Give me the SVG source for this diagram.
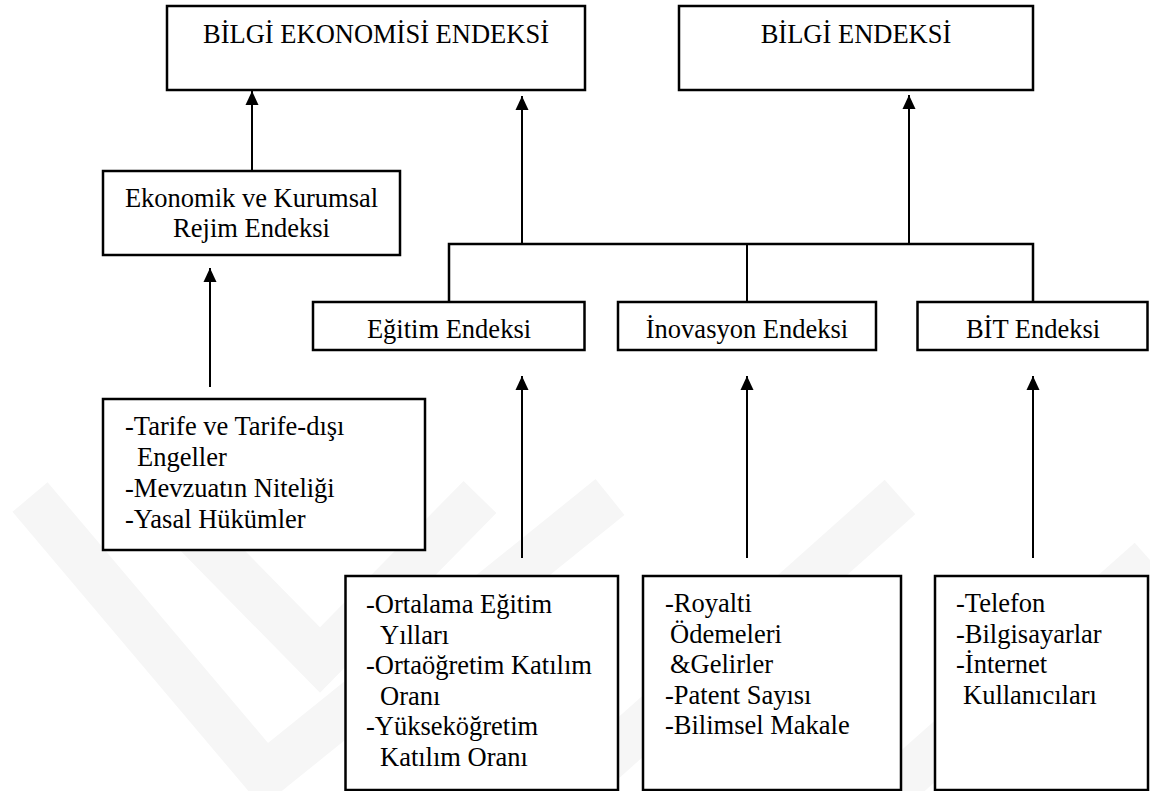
<svg xmlns="http://www.w3.org/2000/svg" width="1150" height="791" viewBox="0 0 1150 791">
<defs>
<marker id="ah" markerUnits="userSpaceOnUse" markerWidth="14" markerHeight="14" refX="14" refY="7" orient="auto">
<path d="M0,0.5 L14,7 L0,13.5 z" fill="#000"/>
</marker>
</defs>
<rect width="1150" height="791" fill="#fff"/>
<g id="watermark" fill="none" stroke="#f6f6f6" stroke-width="46">
<polyline points="30,497 265,775 610,497"/>
<polyline points="160,497 320,660 480,497"/>
<polyline points="560,800 900,497"/>
<polyline points="880,800 1150,560"/>
</g>
<g id="connectors" stroke="#000" stroke-width="2" fill="none">
<line x1="252" y1="171" x2="252" y2="91" marker-end="url(#ah)"/>
<line x1="522" y1="244" x2="522" y2="96" marker-end="url(#ah)"/>
<line x1="909" y1="244" x2="909" y2="95" marker-end="url(#ah)"/>
<polyline stroke-width="2.5" points="449,302 449,244 1033,244 1033,302"/>
<line x1="747" y1="244" x2="747" y2="302"/>
<line x1="210" y1="387" x2="210" y2="268" marker-end="url(#ah)"/>
<line x1="522" y1="558" x2="522" y2="376" marker-end="url(#ah)"/>
<line x1="747" y1="558" x2="747" y2="376" marker-end="url(#ah)"/>
<line x1="1033" y1="558" x2="1033" y2="376" marker-end="url(#ah)"/>
</g>
<g id="n-bilgi-ekonomisi">
<rect x="167" y="6" width="418" height="84" fill="#fff" stroke="#000" stroke-width="2.5"/>
<text x="376" y="43" text-anchor="middle" font-family="Liberation Serif" font-size="26.5">BİLGİ EKONOMİSİ ENDEKSİ</text>
</g>
<g id="n-bilgi-endeksi">
<rect x="679" y="6" width="354" height="84" fill="#fff" stroke="#000" stroke-width="2.5"/>
<text x="856" y="43" text-anchor="middle" font-family="Liberation Serif" font-size="26.5">BİLGİ ENDEKSİ</text>
</g>
<g id="n-ekonomik">
<rect x="103" y="171" width="297" height="84" fill="#fff" stroke="#000" stroke-width="2.5"/>
<text x="251.5" y="207" text-anchor="middle" font-family="Liberation Serif" font-size="26.5">Ekonomik ve Kurumsal</text>
<text x="251.5" y="237" text-anchor="middle" font-family="Liberation Serif" font-size="26.5">Rejim Endeksi</text>
</g>
<g id="n-egitim">
<rect x="313" y="302" width="271.5" height="48" fill="#fff" stroke="#000" stroke-width="2.5"/>
<text x="449" y="338" text-anchor="middle" font-family="Liberation Serif" font-size="26.5">Eğitim Endeksi</text>
</g>
<g id="n-inovasyon">
<rect x="618" y="302" width="258" height="48" fill="#fff" stroke="#000" stroke-width="2.5"/>
<text x="747" y="338" text-anchor="middle" font-family="Liberation Serif" font-size="26.5">İnovasyon Endeksi</text>
</g>
<g id="n-bit">
<rect x="917.5" y="302" width="230" height="48" fill="#fff" stroke="#000" stroke-width="2.5"/>
<text x="1033" y="338" text-anchor="middle" font-family="Liberation Serif" font-size="26.5">BİT Endeksi</text>
</g>
<g id="n-tarife">
<rect x="103" y="399" width="322" height="151" fill="#fff" stroke="#000" stroke-width="2.5"/>
<text x="125" y="435" font-family="Liberation Serif" font-size="26.5">-Tarife ve Tarife-dışı</text>
<text x="137" y="466" font-family="Liberation Serif" font-size="26.5">Engeller</text>
<text x="125" y="497" font-family="Liberation Serif" font-size="26.5">-Mevzuatın Niteliği</text>
<text x="125" y="528" font-family="Liberation Serif" font-size="26.5">-Yasal Hükümler</text>
</g>
<g id="n-egitim-items">
<rect x="345.5" y="576" width="272.5" height="214" fill="#fff" stroke="#000" stroke-width="2.5"/>
<text x="366" y="613" font-family="Liberation Serif" font-size="26.5">-Ortalama Eğitim</text>
<text x="380" y="643.5" font-family="Liberation Serif" font-size="26.5">Yılları</text>
<text x="366" y="674" font-family="Liberation Serif" font-size="26.5">-Ortaöğretim Katılım</text>
<text x="380" y="704.5" font-family="Liberation Serif" font-size="26.5">Oranı</text>
<text x="366" y="735" font-family="Liberation Serif" font-size="26.5">-Yükseköğretim</text>
<text x="380" y="765.5" font-family="Liberation Serif" font-size="26.5">Katılım Oranı</text>
</g>
<g id="n-inovasyon-items">
<rect x="643" y="576" width="258" height="214" fill="#fff" stroke="#000" stroke-width="2.5"/>
<text x="665" y="612" font-family="Liberation Serif" font-size="26.5">-Royalti</text>
<text x="670" y="642.5" font-family="Liberation Serif" font-size="26.5">Ödemeleri</text>
<text x="670" y="673" font-family="Liberation Serif" font-size="26.5">&amp;Gelirler</text>
<text x="665" y="703.5" font-family="Liberation Serif" font-size="26.5">-Patent Sayısı</text>
<text x="665" y="734" font-family="Liberation Serif" font-size="26.5">-Bilimsel Makale</text>
</g>
<g id="n-bit-items">
<rect x="935" y="576" width="213" height="214" fill="#fff" stroke="#000" stroke-width="2.5"/>
<text x="956" y="612" font-family="Liberation Serif" font-size="26.5">-Telefon</text>
<text x="956" y="642.5" font-family="Liberation Serif" font-size="26.5">-Bilgisayarlar</text>
<text x="956" y="673" font-family="Liberation Serif" font-size="26.5">-İnternet</text>
<text x="963" y="703.5" font-family="Liberation Serif" font-size="26.5">Kullanıcıları</text>
</g>
</svg>
